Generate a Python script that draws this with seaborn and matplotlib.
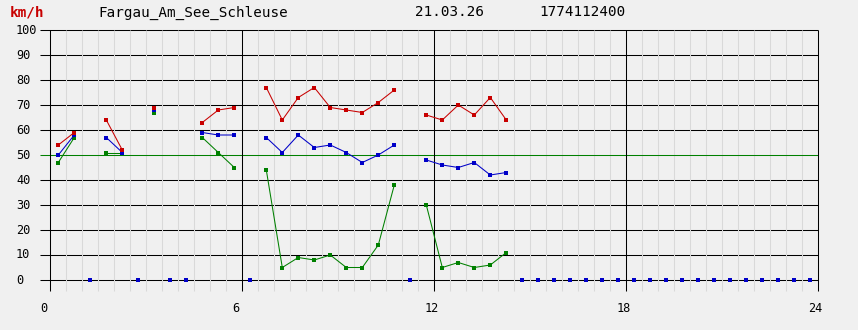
import numpy as np
import pandas as pd
import matplotlib
matplotlib.use("Agg")
import matplotlib.pyplot as plt
import matplotlib.transforms as mtransforms
import seaborn as sns

# ---- data -------------------------------------------------------------
hours = [0.25, 0.75, 1.25, 1.75, 2.25, 2.75, 3.25, 3.75, 4.25, 4.75,
         5.25, 5.75, 6.25, 6.75, 7.25, 7.75, 8.25, 8.75, 9.25, 9.75,
         10.25, 10.75, 11.25, 11.75, 12.25, 12.75, 13.25, 13.75, 14.25, 14.75,
         15.25, 15.75, 16.25, 16.75, 17.25, 17.75, 18.25, 18.75, 19.25, 19.75,
         20.25, 20.75, 21.25, 21.75, 22.25, 22.75, 23.25, 23.75]
N = None
gust_max = [54, 59, N, 64, 52, N, 69, N, N, 63,
            68, 69, N, 77, 64, 73, 77, 69, 68, 67,
            71, 76, N, 66, 64, 70, 66, 73, 64, N,
            N, N, N, N, N, N, N, N, N, N,
            N, N, N, N, N, N, N, N]
wind_mean = [50, 58, N, 57, 51, N, 68, N, N, 59,
             58, 58, N, 57, 51, 58, 53, 54, 51, 47,
             50, 54, N, 48, 46, 45, 47, 42, 43, N,
             N, N, N, N, N, N, N, N, N, N,
             N, N, N, N, N, N, N, N]
wind_min = [47, 57, N, 51, 51, N, 67, N, N, 57,
            51, 45, N, 44, 5, 9, 8, 10, 5, 5,
            14, 38, N, 30, 5, 7, 5, 6, 11, N,
            N, N, N, N, N, N, N, N, N, N,
            N, N, N, N, N, N, N, N]
y_ticks = [0, 10, 20, 30, 40, 50, 60, 70, 80, 90, 100]
x_ticks = [0, 6, 12, 18, 24]
unit_label = "km/h"
station = "Fargau_Am_See_Schleuse"
date_label = "21.03.26"
stamp_label = "1774112400"

# ---- style ------------------------------------------------------------
BG = "#f0f0f0"
RED = "#c80000"
BLUE = "#0000c8"
GREEN = "#008000"
LIGHT = "#d9d9d9"
MONO = "DejaVu Sans Mono"

sns.set_theme(style="white")
plt.rcParams["font.family"] = [MONO, "DejaVu Sans"]

W, H = 858, 330
fig = plt.figure(figsize=(W / 100, H / 100), dpi=100, facecolor=BG)

# pixel geometry: x=0 at px 50.3, 32 px / hour; y=100 at px 30, 2.5 px / unit
px_x0, px_per_h = 50.3, 32.0
px_y0, px_per_u = 280.0, 2.5
ax_left_px, ax_right_px = 40.0, 819.0
ax_top_px, ax_bot_px = 29.0, 291.0
ax = fig.add_axes([ax_left_px / W, 1 - ax_bot_px / H,
                   (ax_right_px - ax_left_px) / W, (ax_bot_px - ax_top_px) / H])
ax.set_facecolor(BG)
ax.set_xlim((ax_left_px - px_x0) / px_per_h, (ax_right_px - px_x0) / px_per_h)
ax.set_ylim((px_y0 - ax_bot_px) / px_per_u, (px_y0 - ax_top_px) / px_per_u)
for s in ax.spines.values():
    s.set_visible(False)
ax.set_xticks([])
ax.set_yticks([])

xmin_line = ax.get_xlim()[0]
ybot = ax.get_ylim()[0]
LW = 0.75

# horizontal grid lines
for v in y_ticks:
    col = GREEN if v == 50 else "black"
    z = 3 if v == 50 else 1
    ax.plot([xmin_line, x_ticks[-1]], [v, v], color=col, lw=LW, zorder=z,
            solid_capstyle="butt", clip_on=False)

# light half-hour verticals
half_hours = np.arange(0.5, 24, 0.5)
for xv in half_hours:
    if xv % 6 == 0:
        continue
    ax.plot([xv, xv], [ybot, 100], color=LIGHT, lw=LW, zorder=2,
            solid_capstyle="butt", clip_on=False)
# major verticals
for xv in x_ticks:
    ax.plot([xv, xv], [ybot, 100], color="black", lw=LW, zorder=4,
            solid_capstyle="butt", clip_on=False)

# ---- series -----------------------------------------------------------
def prep(vals):
    df = pd.DataFrame({"t": hours, "v": pd.array(vals, dtype="Float64")})
    df["v"] = df["v"].astype(float)
    df["seg"] = df["v"].isna().cumsum()
    return df.dropna(subset=["v"])

for vals, col in [(wind_min, GREEN), (wind_mean, BLUE), (gust_max, RED)]:
    d = prep(vals)
    sns.lineplot(data=d, x="t", y="v", units="seg", estimator=None, color=col,
                 lw=LW, marker="s", markersize=2.4, markeredgewidth=0,
                 markerfacecolor=col, ax=ax, zorder=6, legend=False)

# missing samples drawn as markers on the zero line
miss = pd.DataFrame({"t": hours, "v": gust_max})
miss = miss[miss["v"].isna()].assign(z=0.0)
sns.scatterplot(data=miss, x="t", y="z", marker="s", s=5.5, color=BLUE,
                linewidth=0, ax=ax, zorder=7, legend=False)
ax.set_xlabel("")
ax.set_ylabel("")

# ---- tick labels ------------------------------------------------------
ytr = mtransforms.blended_transform_factory(fig.transFigure, ax.transData)
for v in y_ticks:
    ax.text(16 / W, v, str(v), transform=ytr, ha="left", va="center",
            fontsize=8.6, color="black", clip_on=False)

xtr = ax.transData + mtransforms.ScaledTranslation(-9.8 / 100, 0, fig.dpi_scale_trans)
for xv in x_ticks:
    ax.text(xv, (px_y0 - 308.5) / px_per_u, str(xv), transform=xtr, ha="left",
            va="center", fontsize=8.6, color="black", clip_on=False)

# ---- header -----------------------------------------------------------
ty = 1 - 12.5 / H
fig.text(9.5 / W, ty, unit_label, color=RED, fontsize=10.3, fontweight="bold",
         ha="left", va="center")
fig.text(98.5 / W, ty, station, color="black", fontsize=10.3, ha="left", va="center")
fig.text(414.5 / W, ty, date_label, color="black", fontsize=10.3, ha="left", va="center")
fig.text(539.5 / W, ty, stamp_label, color="black", fontsize=10.3, ha="left", va="center")

fig.savefig("out.png", dpi=100, facecolor=BG)
